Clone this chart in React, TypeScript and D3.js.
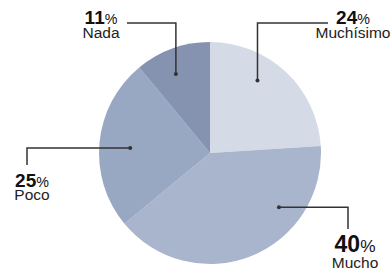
import React from 'react';
import * as d3 from 'd3';

const categories = ['Muchísimo', 'Mucho', 'Poco', 'Nada'];
const values = [24, 40, 25, 11];
const colors = ['#d5dbe6', '#a8b5cc', '#98a7c2', '#8593b0'];

// label layout: where the dot sits inside the slice (fraction of span, fraction of radius),
// where the leader line ends, text center and baseline
const labelLayout = [
  { at: 0.385, rf: 0.78, vertFirst: true, end: [328, 23], tx: 353, ty: 24, numSize: 19, gap: 14 },
  { at: 0.29, rf: 0.79, vertFirst: false, end: [348, 229], tx: 355, ty: 252, numSize: 23, gap: 16 },
  { at: 0.48, rf: 0.72, vertFirst: false, end: [27, 165], tx: 32, ty: 187, numSize: 19, gap: 13 },
  { at: 0.41, rf: 0.775, vertFirst: true, end: [127, 23], tx: 101, ty: 24, numSize: 19, gap: 14 },
];

const W = 392;
const H = 271;
const cx = 210;
const cy = 153;
const R = 111;

export default function App() {
  const pie = d3.pie<number>().sort(null).value(d => d);
  const arcs = pie(values);
  const arc = d3.arc<d3.PieArcDatum<number>>().innerRadius(0).outerRadius(R);

  return (
    <svg width={W} height={H} style={{ position: 'absolute', left: 0, top: 0 }}
      fontFamily="'Liberation Sans', Arial, sans-serif">
      <g transform={`translate(${cx},${cy})`}>
        {arcs.map((a, i) => (
          <path key={i} d={arc(a) || ''} fill={colors[i]} />
        ))}
      </g>
      {arcs.map((a, i) => {
        const l = labelLayout[i];
        const ang = a.startAngle + (a.endAngle - a.startAngle) * l.at;
        const px = cx + Math.sin(ang) * R * l.rf;
        const py = cy - Math.cos(ang) * R * l.rf;
        const ex = l.vertFirst ? px : l.end[0];
        const ey = l.vertFirst ? l.end[1] : py;
        return (
          <g key={i}>
            <polyline
              points={`${px},${py} ${ex},${ey} ${l.end[0]},${l.end[1]}`}
              fill="none" stroke="#333" strokeWidth={1.5} />
            <circle cx={px} cy={py} r={2} fill="#333" />
            <text x={l.tx} y={l.ty} textAnchor="middle" fill="#111">
              <tspan fontWeight="bold" fontSize={l.numSize}>{values[i]}</tspan>
              <tspan fontSize={l.numSize * 0.75}>%</tspan>
            </text>
            <text x={l.tx} y={l.ty + l.gap} textAnchor="middle" fontSize={15.5} fill="#222">
              {categories[i]}
            </text>
          </g>
        );
      })}
    </svg>
  );
}
